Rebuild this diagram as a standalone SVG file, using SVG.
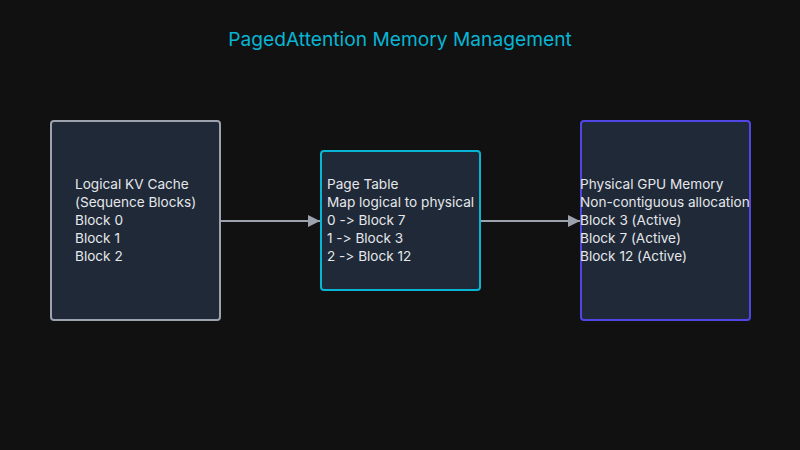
<svg xmlns="http://www.w3.org/2000/svg" width="800" height="450" viewBox="0 0 800 450">
<defs>
<style>
.node rect{fill:#1f2937;stroke-width:2}
.lbl{font-family:Inter,"Noto Sans",sans-serif;font-size:13.6px;fill:#e5e7eb;font-feature-settings:"calt" 0,"liga" 0;font-variant-ligatures:none}
.edge{stroke:#9ca3af;stroke-width:2;fill:none}
</style>
<marker id="arr" viewBox="0 0 10 10" refX="10" refY="5" markerWidth="6" markerHeight="6" orient="auto" markerUnits="strokeWidth">
<path d="M0,0 L10,5 L0,10 z" fill="#9ca3af"/>
</marker>
</defs>
<rect width="800" height="450" fill="#111111"/>
<text x="400" y="46" text-anchor="middle" font-family="Inter,'Noto Sans',sans-serif" font-size="19.2" fill="#06b6d4">PagedAttention Memory Management</text>
<g id="connectors">
<line class="edge" x1="220" y1="221" x2="320" y2="221" marker-end="url(#arr)"/>
<line class="edge" x1="480" y1="221" x2="580" y2="221" marker-end="url(#arr)"/>
</g>
<g id="logical" class="node">
<rect x="51" y="121" width="169" height="199" rx="3" stroke="#9ca3af"/>
<text class="lbl" x="75" y="189">Logical KV Cache</text>
<text class="lbl" x="75" y="207">(Sequence Blocks)</text>
<text class="lbl" x="75" y="225">Block 0</text>
<text class="lbl" x="75" y="243">Block 1</text>
<text class="lbl" x="75" y="261">Block 2</text>
</g>
<g id="pagetable" class="node">
<rect x="321" y="151" width="159" height="139" rx="3" stroke="#06b6d4"/>
<text class="lbl" x="327" y="189">Page Table</text>
<text class="lbl" x="327" y="207">Map logical to physical</text>
<text class="lbl" x="327" y="225">0 -&gt; Block 7</text>
<text class="lbl" x="327" y="243">1 -&gt; Block 3</text>
<text class="lbl" x="327" y="261">2 -&gt; Block 12</text>
</g>
<g id="physical" class="node">
<rect x="581" y="121" width="169" height="199" rx="3" stroke="#4f46e5"/>
<text class="lbl" x="580" y="189">Physical GPU Memory</text>
<text class="lbl" x="580" y="207">Non-contiguous allocation</text>
<text class="lbl" x="580" y="225">Block 3 (Active)</text>
<text class="lbl" x="580" y="243">Block 7 (Active)</text>
<text class="lbl" x="580" y="261">Block 12 (Active)</text>
</g>
</svg>
